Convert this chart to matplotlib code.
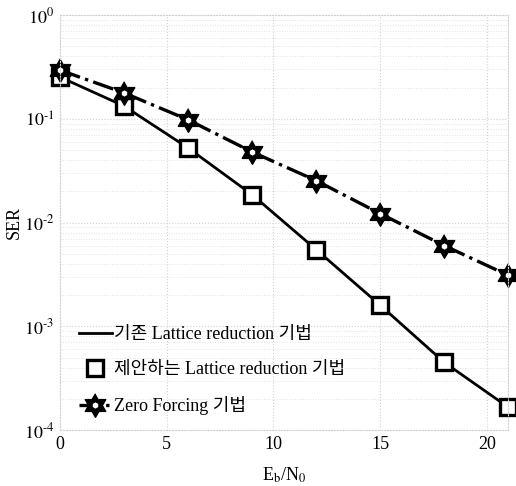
import matplotlib
matplotlib.use("Agg")
import matplotlib.pyplot as plt
from matplotlib.ticker import LogLocator, FixedLocator, FuncFormatter
from matplotlib.legend_handler import HandlerTuple
import numpy as np

plt.rcParams['font.family'] = ['Liberation Serif', 'Noto Sans CJK KR']
plt.rcParams['mathtext.fontset'] = 'stix'

# SNR points (Eb/N0)
snr = [0, 3, 6, 9, 12, 15, 18, 21]
# symbol error rates
ser_lr = [0.253, 0.133, 0.0525, 0.0186, 0.0055, 0.0016, 0.00045, 0.000166]
ser_zf = [0.295, 0.178, 0.098, 0.048, 0.0254, 0.0122, 0.0060, 0.0031]

labels = ['기존 Lattice reduction 기법',
          '제안하는 Lattice reduction 기법',
          'Zero Forcing 기법']

# six-pointed star (MATLAB hexagram)
ang = np.pi / 2 + np.arange(12) * np.pi / 6
rad = np.where(np.arange(12) % 2 == 0, 1.0, 0.577)
hexagram = list(zip(rad * np.cos(ang), rad * np.sin(ang)))

fig = plt.figure(figsize=(5.16, 4.86), dpi=100)
ax = fig.add_axes([0.116, 0.115, 0.869, 0.854])

l1, = ax.plot(snr, ser_lr, '-', color='black', lw=2.0, clip_on=False)
l2, = ax.plot(snr, ser_lr, 's', color='black', mfc='white', mec='black',
              mew=2.4, ms=12, clip_on=False)
l3, = ax.plot(snr, ser_zf, '-.', color='black', lw=2.4, marker=hexagram,
              mfc='black', mec='black', mew=1.0, ms=17, clip_on=False)
# small white centre of each star
l3c, = ax.plot(snr, ser_zf, 'h', mfc='white', mec='none', ms=4.5, clip_on=False)

ax.set_yscale('log')
ax.set_xlim(0, 21)
ax.set_ylim(1e-4, 1)
ax.xaxis.set_major_locator(FixedLocator([0, 5, 10, 15, 20]))
ax.yaxis.set_major_locator(LogLocator(base=10, numticks=10))
ax.yaxis.set_minor_locator(LogLocator(base=10, subs=np.arange(2, 10), numticks=20))
ax.yaxis.set_major_formatter(FuncFormatter(
    lambda v, p: r'$10^{\text{%d}}$' % round(np.log10(v))))
ax.yaxis.set_minor_formatter(FuncFormatter(lambda v, p: ''))

ax.tick_params(axis='both', which='both', length=0, labelsize=13, pad=4)
ax.grid(True, which='major', color='#d0d0d0', linestyle=':', linewidth=0.8)
ax.grid(True, which='minor', axis='y', color='#e2e2e2', linestyle=':', linewidth=0.7)
for s in ax.spines.values():
    s.set_color('#d0d0d0')
    s.set_linestyle(':')
    s.set_linewidth(0.8)

ax.set_xlabel(r'E$_\mathrm{b}$/N$_0$', fontsize=13, labelpad=9)
ax.set_ylabel('SER', fontsize=13)
ax.yaxis.set_label_coords(-0.083, 0.5)

ax.legend([l1, l2, (l3, l3c)], labels, loc='lower left',
          bbox_to_anchor=(0.019, 0.01), frameon=False, fontsize=13,
          handlelength=1.8, handletextpad=0.15, labelspacing=1.0,
          borderaxespad=0.2, handler_map={tuple: HandlerTuple(ndivide=1)})

fig.savefig('out.png', dpi=100)
